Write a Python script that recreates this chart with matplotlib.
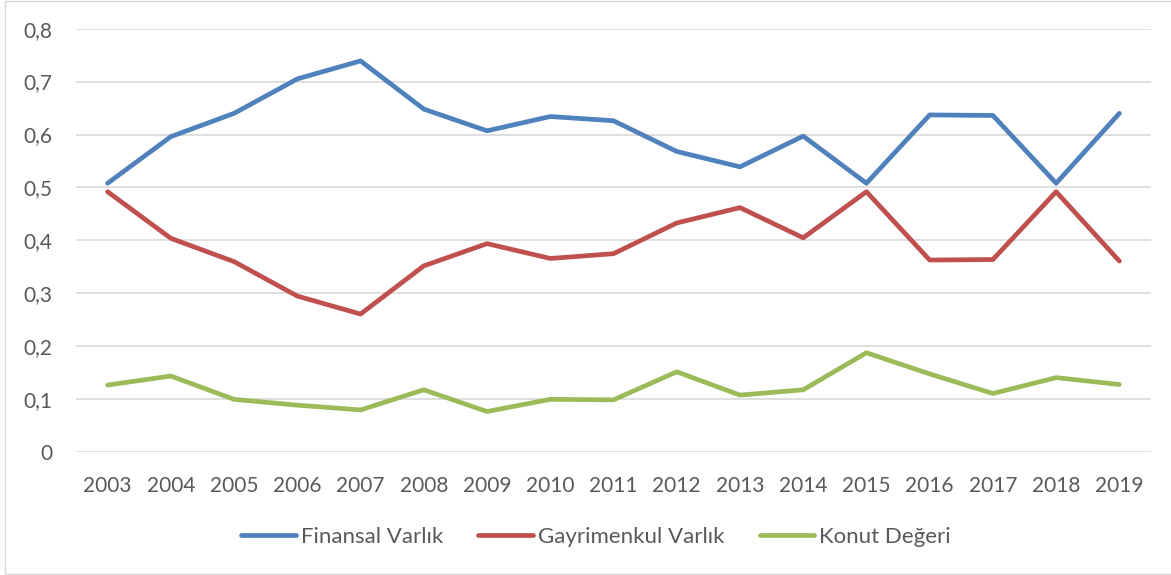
import matplotlib
matplotlib.use("Agg")
import matplotlib.pyplot as plt
from matplotlib.patches import Rectangle

years = ["2003", "2004", "2005", "2006", "2007", "2008", "2009", "2010", "2011",
         "2012", "2013", "2014", "2015", "2016", "2017", "2018", "2019"]
finansal = [0.508, 0.596, 0.640, 0.705, 0.739, 0.648, 0.607, 0.634, 0.626,
            0.568, 0.539, 0.597, 0.508, 0.637, 0.636, 0.508, 0.640]
gayrimenkul = [0.492, 0.404, 0.360, 0.295, 0.261, 0.352, 0.394, 0.366, 0.375,
               0.433, 0.462, 0.405, 0.492, 0.363, 0.364, 0.492, 0.361]
konut = [0.127, 0.144, 0.100, 0.089, 0.080, 0.118, 0.077, 0.100, 0.099,
         0.152, 0.108, 0.118, 0.188, 0.148, 0.111, 0.141, 0.128]
yticks = [0, 0.1, 0.2, 0.3, 0.4, 0.5, 0.6, 0.7, 0.8]
ylabels = ["0", "0,1", "0,2", "0,3", "0,4", "0,5", "0,6", "0,7", "0,8"]

plt.rcParams['font.family'] = ['Lato', 'DejaVu Sans']
txt = "#595959"

fig = plt.figure(figsize=(11.71, 5.75), dpi=100)
fig.patches.append(Rectangle((5 / 1171, 1 / 575), 1.0, 573 / 575, transform=fig.transFigure,
                             fill=False, edgecolor="#D9D9D9", linewidth=1.0))
ax = fig.add_axes([76 / 1171, (575 - 452.3) / 575, 1075 / 1171, (452.3 - 28.6) / 575])

x = list(range(len(years)))
lw = 3.4
ax.plot(x, finansal, color="#4F81BD", lw=lw, solid_capstyle="round", solid_joinstyle="round", label="Finansal Varlık", zorder=3)
ax.plot(x, gayrimenkul, color="#C0504D", lw=lw, solid_capstyle="round", solid_joinstyle="round", label="Gayrimenkul Varlık", zorder=3)
ax.plot(x, konut, color="#9BBB59", lw=lw, solid_capstyle="round", solid_joinstyle="round", label="Konut Değeri", zorder=3)

ax.set_xlim(-0.5, len(years) - 0.5)
ax.set_ylim(0, 0.8)
ax.set_yticks(yticks)
ax.set_yticklabels(ylabels)
ax.set_xticks(x)
ax.set_xticklabels(years)
ax.tick_params(axis="both", length=0, labelsize=15, labelcolor=txt)
ax.tick_params(axis="y", pad=17)
ax.tick_params(axis="x", pad=17)
ax.grid(axis="y", color="#D9D9D9", linewidth=1.2)
ax.set_axisbelow(True)
for s in ax.spines.values():
    s.set_visible(False)

leg = fig.legend(loc="center", bbox_to_anchor=(596 / 1171, 1 - 537 / 575), ncol=3, frameon=False,
                 fontsize=16, handlelength=2.45, handletextpad=0.22, columnspacing=1.6)
for t in leg.get_texts():
    t.set_color(txt)

fig.savefig("out.png", dpi=100)
